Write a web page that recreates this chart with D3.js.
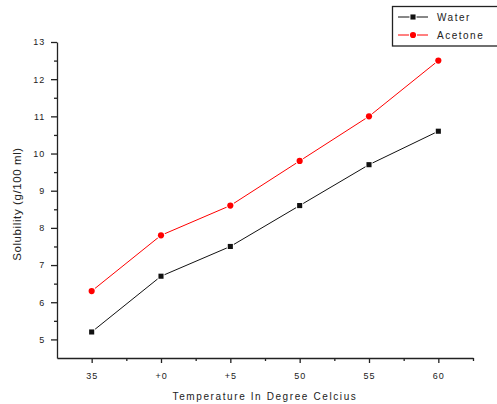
<!DOCTYPE html>
<html>
<head>
<meta charset="utf-8">
<script src="https://cdn.jsdelivr.net/npm/d3@7"></script>
<style>
  body { margin: 0; background: #fff; }
  text { font-family: "Liberation Sans", Arial, sans-serif; fill: #222; }
</style>
</head>
<body>
<div id="chart"></div>
<script>
const temps = [35, 40, 45, 50, 55, 60];
const water = [5.2, 6.7, 7.5, 8.6, 9.7, 10.6];
const acetone = [6.3, 7.8, 8.6, 9.8, 11.0, 12.5];
const xTickLabels = ["35", "+0", "+5", "50", "55", "60"];
const yTicks = [5, 6, 7, 8, 9, 10, 11, 12, 13];

const width = 497, height = 404;
const margin = { left: 57, right: 24, top: 42, bottom: 46 };

const svg = d3.select("#chart").append("svg")
    .attr("width", width)
    .attr("height", height);

const x = d3.scaleLinear().domain([32.5, 62.5]).range([margin.left, width - margin.right]);
const y = d3.scaleLinear().domain([4.5, 13]).range([height - margin.bottom, margin.top]);

// minor ticks first
svg.append("g")
    .attr("transform", "translate(0," + (height - margin.bottom) + ")")
    .call(d3.axisBottom(x).tickValues([37.5, 42.5, 47.5, 52.5, 57.5, 62.5]).tickSize(3).tickFormat(""))
    .call(g => g.select(".domain").remove());
svg.append("g")
    .attr("transform", "translate(" + margin.left + ",0)")
    .call(d3.axisLeft(y).tickValues([5.5, 6.5, 7.5, 8.5, 9.5, 10.5, 11.5, 12.5]).tickSize(3).tickFormat(""))
    .call(g => g.select(".domain").remove());

const xAxis = svg.append("g")
    .attr("transform", "translate(0," + (height - margin.bottom) + ")")
    .call(d3.axisBottom(x).tickValues(temps).tickSize(5).tickSizeOuter(0)
        .tickFormat((d, i) => xTickLabels[i]));
xAxis.selectAll("text").attr("dy", "1.4em").style("font-size", "9px").style("letter-spacing", "1px");

const yAxis = svg.append("g")
    .attr("transform", "translate(" + margin.left + ",0)")
    .call(d3.axisLeft(y).tickValues(yTicks).tickSize(6).tickSizeOuter(0));
yAxis.selectAll("text").attr("dx", "-0.3em").style("font-size", "9px").style("letter-spacing", "1px");

svg.selectAll(".domain, .tick line").attr("stroke", "#222").attr("stroke-width", 1.3);

svg.append("text")
    .attr("x", (margin.left + width - margin.right) / 2)
    .attr("y", 400)
    .attr("text-anchor", "middle")
    .style("font-size", "10px")
    .style("letter-spacing", "1.6px")
    .text("Temperature In Degree Celcius");

svg.append("text")
    .attr("transform", "translate(21,204) rotate(-90)")
    .attr("text-anchor", "middle")
    .style("font-size", "11.5px")
    .style("letter-spacing", "0.6px")
    .text("Solubility (g/100 ml)");

const series = [
    { name: "Water", values: water, color: "#111", shape: "square" },
    { name: "Acetone", values: acetone, color: "#ff0000", shape: "circle" }
];

const line = d3.line()
    .x((d, i) => x(temps[i]))
    .y(d => y(d));

series.forEach(s => {
    svg.append("path")
        .datum(s.values)
        .attr("fill", "none")
        .attr("stroke", s.color)
        .attr("stroke-width", 1)
        .attr("d", line);

    const sym = d3.symbol().type(s.shape === "square" ? d3.symbolSquare : d3.symbolCircle)
        .size(s.shape === "square" ? 26 : 30);
    svg.selectAll(null)
        .data(s.values)
        .enter().append("path")
        .attr("transform", (d, i) => "translate(" + x(temps[i]) + "," + y(d) + ")")
        .attr("d", sym)
        .attr("fill", s.color)
        .attr("stroke", "#fff")
        .attr("stroke-width", 2)
        .attr("paint-order", "stroke");
});

// legend
const legend = svg.append("g");
legend.append("rect")
    .attr("x", 392.5).attr("y", 6.5)
    .attr("width", 110).attr("height", 39.5)
    .attr("fill", "#fff").attr("stroke", "#222").attr("stroke-width", 1.3);

series.forEach((s, i) => {
    const ly = 17 + i * 18;
    legend.append("line")
        .attr("x1", 398).attr("x2", 428)
        .attr("y1", ly).attr("y2", ly)
        .attr("stroke", s.color).attr("stroke-width", 1);
    legend.append("path")
        .attr("transform", "translate(413," + ly + ")")
        .attr("d", d3.symbol().type(s.shape === "square" ? d3.symbolSquare : d3.symbolCircle)
            .size(s.shape === "square" ? 26 : 30))
        .attr("fill", s.color)
        .attr("stroke", "#fff").attr("stroke-width", 2).attr("paint-order", "stroke");
    legend.append("text")
        .attr("x", 437).attr("y", ly)
        .attr("dy", "0.35em")
        .style("font-size", "10px")
        .style("letter-spacing", "1.5px")
        .text(s.name);
});
</script>
</body>
</html>
